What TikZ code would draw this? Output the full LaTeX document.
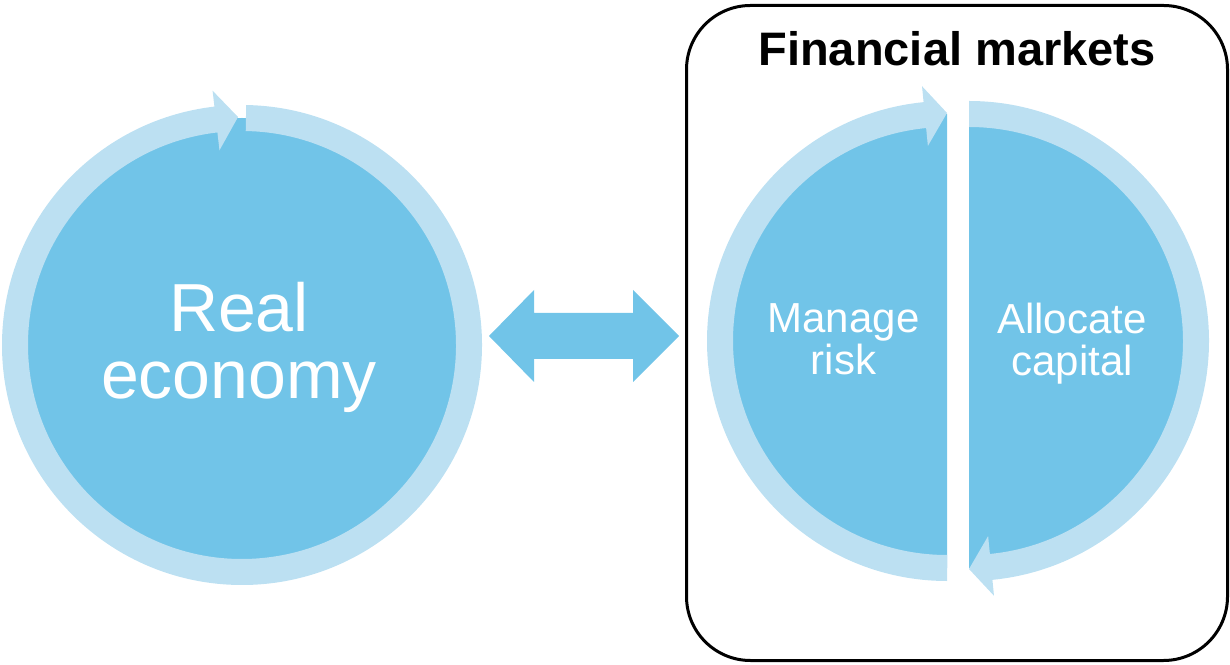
\documentclass[tikz,border=0pt]{standalone}
\usepackage{xcolor}
\usepackage{fontspec}
\setmainfont{Liberation Sans}
\usepackage{tikz}
\usetikzlibrary{positioning}
\definecolor{skyish}{HTML}{71C4E8}
\definecolor{lskyish}{HTML}{BCE0F2}

\begin{document}
\begin{tikzpicture}[
   x=0.5pt, y=0.5pt,
   disc/.style={fill=skyish},
   ring/.style={fill=lskyish},
   inlabel/.style={text=white, align=center, inner sep=0pt},
   every node/.append style={inner sep=0pt}
]
\useasboundingbox (0,0) rectangle (1230,664);

% real economy: full disc with a circular arrow round it
\coordinate (econ) at (242,319);
\fill[disc] (econ) circle[radius=227];
\fill[ring,shift={(econ)}] (89:240) arc[start angle=89, end angle=-263.4, radius=240]
   -- (96.6:256) -- (91:228) -- (96.6:196) -- (96.6:214)
   arc[start angle=-263.4, end angle=89, radius=214] -- cycle;
\node[inlabel, font=\fontsize{34}{33.5}\selectfont] (real) at (239,317) {Real\\economy};

% two-way block arrow
\coordinate (lt) at (489,328);
\coordinate (rt) at (679,328);
\fill[disc] (lt) -- ++(45,46) -- ++(0,-23) -- ++(99,0) -- ++(0,23)
   -- (rt) -- ++(-46,-46) -- ++(0,23) -- ++(-99,0) -- ++(0,-23) -- cycle;

% financial markets box
\node[draw, line width=1.5pt, rounded corners=32pt, minimum width=270.5pt,
   minimum height=327.5pt] (markets) at (957,331) {};
\node[font=\bfseries\fontsize{23.5}{28}\selectfont, below=13.5pt of markets.north]
   (title) {Financial markets};

% left half: manage risk
\coordinate (riskc) at (947,323);
\fill[disc,shift={(riskc)}] (90:227) arc[start angle=90, end angle=270, radius=227] -- cycle;
\fill[ring,shift={(riskc)}] (270:240) arc[start angle=270, end angle=95.6, radius=240]
   -- (95.6:256) -- (90:228) -- (95.6:196) -- (95.6:214)
   arc[start angle=95.6, end angle=270, radius=214] -- cycle;
\node[inlabel, font=\fontsize{21}{21}\selectfont] (risk) at (843.5,325) {Manage\\risk};

% right half: allocate capital
\coordinate (capc) at (969,323);
\fill[disc,shift={(capc)}] (90:227) arc[start angle=90, end angle=-90, radius=227] -- cycle;
\fill[ring,shift={(capc)}] (90:240) arc[start angle=90, end angle=-84.4, radius=240]
   -- (-84.4:256) -- (-90:228) -- (-84.4:196) -- (-84.4:214)
   arc[start angle=-84.4, end angle=90, radius=214] -- cycle;
\node[inlabel, font=\fontsize{21}{21}\selectfont] (capital) at (1072,320.5) {Allocate\\capital};
\end{tikzpicture}
\end{document}
